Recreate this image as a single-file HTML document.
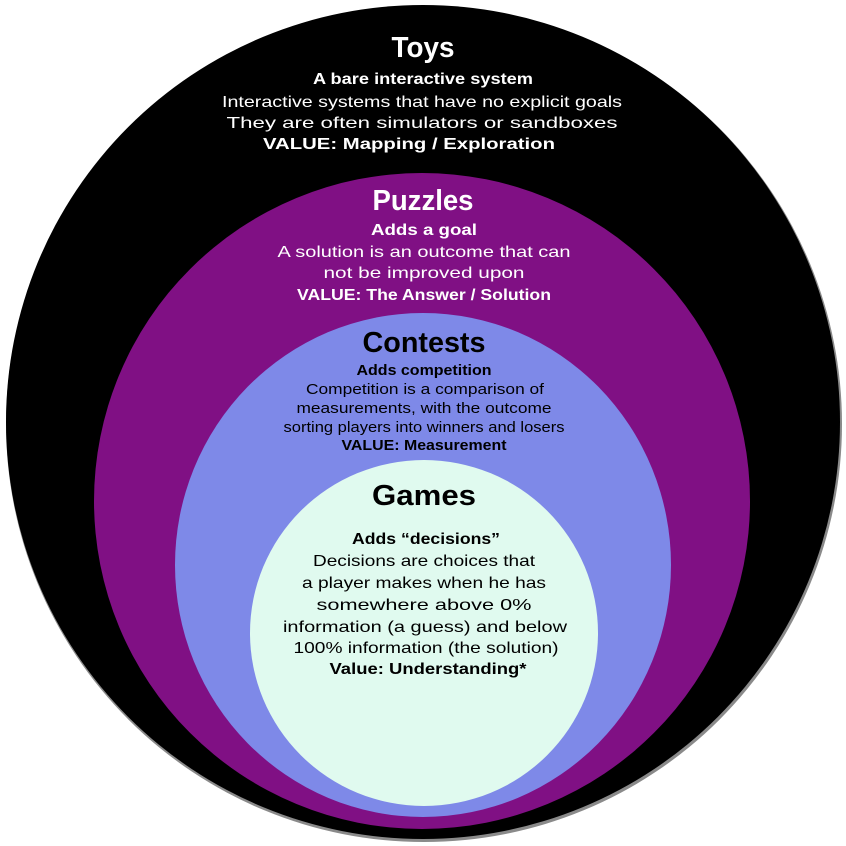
<!DOCTYPE html>
<html><head><meta charset="utf-8"><style>html,body{margin:0;padding:0;background:#fff}svg{display:block}text{font-family:"Liberation Sans",sans-serif;text-anchor:middle}</style></head>
<body>
<svg width="846" height="846" viewBox="0 0 846 846" xmlns="http://www.w3.org/2000/svg">
<circle cx="424" cy="424" r="418" fill="#8a8a8a"/>
<circle cx="423" cy="422" r="417" fill="#000"/>
<ellipse cx="422" cy="501" rx="328" ry="328" fill="#801084"/>
<ellipse cx="423" cy="565" rx="248" ry="252" fill="#7e89e8"/>
<ellipse cx="424" cy="633" rx="174" ry="173" fill="#e0faef"/>
<g fill="#fff">
<text x="423" y="57" font-size="29" font-weight="bold" textLength="63" lengthAdjust="spacingAndGlyphs">Toys</text>
<text x="423" y="84" font-size="16" font-weight="bold" textLength="220" lengthAdjust="spacingAndGlyphs">A bare interactive system</text>
<text x="422" y="107" font-size="16" textLength="400" lengthAdjust="spacingAndGlyphs">Interactive systems that have no explicit goals</text>
<text x="422" y="128" font-size="16" textLength="391" lengthAdjust="spacingAndGlyphs">They are often simulators or sandboxes</text>
<text x="409" y="149" font-size="16" font-weight="bold" textLength="292" lengthAdjust="spacingAndGlyphs">VALUE:  Mapping / Exploration</text>
<text x="423" y="210" font-size="29" font-weight="bold" textLength="101" lengthAdjust="spacingAndGlyphs">Puzzles</text>
<text x="424" y="235" font-size="16" font-weight="bold" textLength="106" lengthAdjust="spacingAndGlyphs">Adds a goal</text>
<text x="424" y="257" font-size="16" textLength="293" lengthAdjust="spacingAndGlyphs">A solution is an outcome that can</text>
<text x="424" y="278" font-size="16" textLength="201" lengthAdjust="spacingAndGlyphs">not be improved upon</text>
<text x="424" y="300" font-size="16" font-weight="bold" textLength="254" lengthAdjust="spacingAndGlyphs">VALUE:  The Answer / Solution</text>
</g>
<g fill="#000">
<text x="424" y="352" font-size="29" font-weight="bold" textLength="123" lengthAdjust="spacingAndGlyphs">Contests</text>
<text x="424" y="375" font-size="15" font-weight="bold" textLength="135" lengthAdjust="spacingAndGlyphs">Adds competition</text>
<text x="425" y="394" font-size="15" textLength="238" lengthAdjust="spacingAndGlyphs">Competition is a comparison of</text>
<text x="424" y="413" font-size="15" textLength="255" lengthAdjust="spacingAndGlyphs">measurements, with the outcome</text>
<text x="424" y="432" font-size="15" textLength="281" lengthAdjust="spacingAndGlyphs">sorting players into winners and losers</text>
<text x="424" y="450" font-size="15" font-weight="bold" textLength="165" lengthAdjust="spacingAndGlyphs">VALUE:  Measurement</text>
<text x="424" y="505" font-size="29" font-weight="bold" textLength="104" lengthAdjust="spacingAndGlyphs">Games</text>
<text x="426" y="544" font-size="16" font-weight="bold" textLength="148" lengthAdjust="spacingAndGlyphs">Adds “decisions”</text>
<text x="424" y="566" font-size="16" textLength="222" lengthAdjust="spacingAndGlyphs">Decisions are choices that</text>
<text x="424" y="588" font-size="16" textLength="244" lengthAdjust="spacingAndGlyphs">a player makes when he has</text>
<text x="424" y="610" font-size="16" textLength="215" lengthAdjust="spacingAndGlyphs">somewhere above 0%</text>
<text x="425" y="632" font-size="16" textLength="284" lengthAdjust="spacingAndGlyphs">information (a guess) and below</text>
<text x="426" y="653" font-size="16" textLength="265" lengthAdjust="spacingAndGlyphs">100% information (the solution)</text>
<text x="428" y="674" font-size="16" font-weight="bold" textLength="197" lengthAdjust="spacingAndGlyphs">Value: Understanding*</text>
</g>
</svg>
</body></html>
